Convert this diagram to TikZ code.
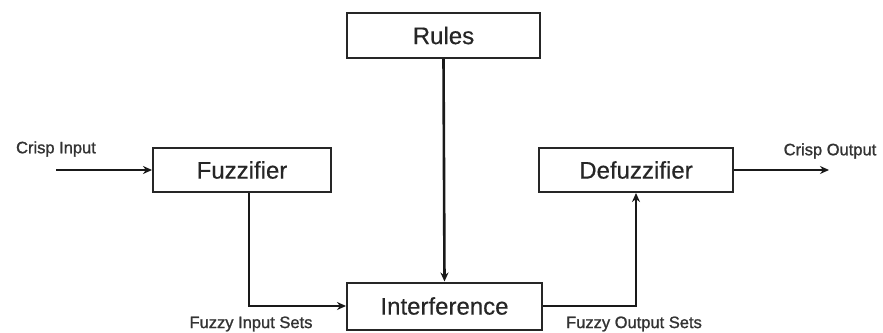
\documentclass[tikz,border=0pt]{standalone}
\usepackage{fontspec}
\setmainfont{Liberation Sans}
\newfontfamily\tagfont[FakeBold=1.2]{Liberation Sans}
\newfontfamily\blockfont[FakeBold=0.4]{Liberation Sans}
\usetikzlibrary{arrows.meta}
\begin{document}
\begin{tikzpicture}[x=1pt,y=-1pt,
  block/.style={draw=black!85, line width=2pt, minimum height=44pt, inner sep=0pt,
    font=\blockfont\fontsize{24}{28}\selectfont, text=black!85},
  tag/.style={font=\tagfont\fontsize{16.5}{20}\selectfont, text=black!80, inner sep=0pt},
  flow/.style={line width=2.6pt, draw=black!90, -{Stealth[length=9pt,width=8pt]}}]
  \useasboundingbox[fill=white] (0,0) rectangle (883,332);

  % processing blocks
  \node[block, minimum width=193pt, minimum height=45pt] (rules) at (443.5,35.5) {Rules};
  \node[block, minimum width=178pt] (fuzz) at (242,170) {Fuzzifier};
  \node[block, minimum width=194pt] (defuzz) at (636,170) {Defuzzifier};
  \node[block, minimum width=195pt, minimum height=47pt] (inter) at (444.5,306) {Interference};

  % free ends of the outer arrows
  \coordinate (in) at (56,170);
  \coordinate (out) at (829,170);

  % connectors
  \draw[flow] (in) -- (fuzz.west);
  \draw[flow] ([xshift=7pt]fuzz.south) |- (inter.west);
  \draw[flow] (rules.south) -- (inter.north);
  \draw[flow] (inter.east) -| (defuzz.south);
  \draw[flow] (defuzz.east) -- (out);

  % signal labels
  \node[tag] (lin) at (56,149) {Crisp Input};
  \node[tag] (lout) at (830,151) {Crisp Output};
  \node[tag] (lfis) at (251,324) {Fuzzy Input Sets};
  \node[tag] (lfos) at (634,324) {Fuzzy Output Sets};
\end{tikzpicture}
\end{document}
